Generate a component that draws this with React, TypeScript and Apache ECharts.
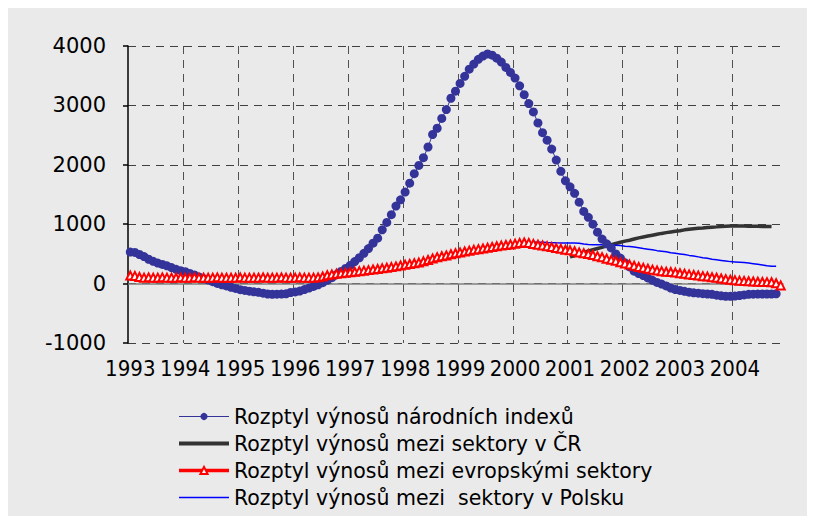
import React, { useEffect, useRef } from "react";
import * as echarts from "echarts";

// ---- Data -------------------------------------------------------------
const YEARS = ["1993", "1994", "1995", "1996", "1997", "1998", "1999", "2000", "2001", "2002", "2003", "2004"];
const MONTHS_PER_YEAR = [12, 12, 12, 12, 12, 12, 12, 12, 12, 12, 12, 11];

// Rozptyl výnosů národních indexů (monthly, 1993-01 .. 2004-10)
const NATIONAL = [
  530, 525, 490, 455, 410, 375, 345, 322, 300, 270, 240, 218, // 1993
  200, 172, 145, 112, 85, 62, 32, 3, -20, -40, -62, -82, // 1994
  -102, -115, -128, -138, -147, -162, -175, -180, -178, -176, -172, -150, // 1995
  -140, -125, -100, -75, -48, -20, 15, 55, 100, 150, 205, 255, // 1996
  305, 370, 435, 510, 590, 680, 765, 905, 1030, 1160, 1305, 1410, // 1997
  1540, 1690, 1850, 1990, 2120, 2300, 2510, 2615, 2780, 2930, 3120, 3240, // 1998
  3370, 3490, 3610, 3695, 3775, 3830, 3866, 3845, 3795, 3730, 3640, 3555, // 1999
  3460, 3330, 3180, 3030, 2890, 2705, 2540, 2415, 2265, 2080, 1890, 1730, // 2000
  1630, 1520, 1370, 1215, 1115, 1000, 865, 750, 670, 600, 500, 430, // 2001
  350, 280, 210, 170, 135, 95, 55, 20, -8, -40, -75, -100, // 2002
  -115, -130, -145, -155, -162, -170, -175, -180, -195, -205, -213, -215, // 2003
  -210, -200, -190, -180, -178, -176, -175, -175, -175, -172, null, // 2004
];

// Rozptyl výnosů mezi sektory v ČR (from 2001-01)
const CZ_START = "2001-01";
const CZ = [
  450, 470, 500, 525, 550, 570, 590, 610, 635, 655, 675, 695, // 2001
  715, 730, 750, 770, 785, 800, 815, 830, 845, 858, 870, 880, // 2002
  890, 905, 915, 925, 932, 938, 945, 950, 955, 962, 966, 968, // 2003
  970, 970, 968, 966, 965, 964, 962, 962, 960, // 2004
];

// Rozptyl výnosů mezi evropskými sektory (1993-01 .. 2004-11)
const EURO = [
  135, 130, 110, 100, 105, 100, 100, 105, 100, 100, 100, 105, // 1993
  100, 100, 105, 100, 100, 100, 100, 105, 100, 100, 100, 100, // 1994
  105, 100, 100, 100, 100, 105, 100, 100, 100, 105, 100, 100, // 1995
  100, 105, 100, 100, 100, 105, 120, 140, 155, 165, 175, 183, // 1996
  191, 200, 210, 218, 227, 237, 247, 257, 267, 278, 290, 305, // 1997
  318, 331, 342, 354, 375, 398, 422, 445, 460, 475, 493, 510, // 1998
  525, 540, 555, 568, 580, 592, 603, 615, 628, 640, 650, 660, // 1999
  670, 685, 692, 685, 668, 655, 642, 630, 615, 598, 585, 570, // 2000
  560, 545, 525, 510, 498, 482, 462, 445, 420, 400, 385, 360, // 2001
  340, 320, 300, 280, 265, 250, 235, 220, 210, 200, 195, 185, // 2002
  175, 165, 155, 145, 135, 125, 118, 108, 98, 85, 75, 65, // 2003
  58, 50, 45, 40, 36, 32, 28, 25, 22, 5, -30, // 2004
];

// Rozptyl výnosů mezi sektory v Polsku (from 2000-05)
const PL_START = "2000-05";
const PL = [
  700, 697, 695, 690, 688, 686, 685, 685, // 2000
  684, 683, 680, 665, 658, 655, 655, 652, 650, 648, 645, 640, // 2001
  630, 625, 615, 605, 590, 580, 570, 555, 545, 535, 520, 510, // 2002
  500, 490, 475, 465, 450, 435, 425, 410, 400, 390, 380, 370, // 2003
  365, 360, 355, 345, 335, 325, 315, 300, 292, 290, // 2004
];

const SERIES_NAMES = [
  "Rozptyl výnosů národních indexů",
  "Rozptyl výnosů mezi sektory v ČR",
  "Rozptyl výnosů mezi evropskými sektory",
  "Rozptyl výnosů mezi  sektory v Polsku",
];

const Y_MIN = -1000;
const Y_MAX = 4000;
const Y_STEP = 1000;

// ---- Helpers -----------------------------------------------------------
const CATEGORIES: string[] = [];
YEARS.forEach((y, yi) => {
  for (let m = 1; m <= MONTHS_PER_YEAR[yi]; m++) {
    CATEGORIES.push(`${y}-${String(m).padStart(2, "0")}`);
  }
});

function alignSeries(start: string, values: (number | null)[]) {
  const out: (number | null)[] = CATEGORIES.map(() => null);
  const s = CATEGORIES.indexOf(start);
  values.forEach((v, k) => {
    if (s + k < out.length) out[s + k] = v;
  });
  return out;
}

const FONT = "'DejaVu Sans', 'Liberation Sans', sans-serif";
const NARROW = "'Liberation Sans Narrow', 'DejaVu Sans Condensed', 'Liberation Sans', sans-serif";

export default function App() {
  const ref = useRef<HTMLDivElement>(null);

  useEffect(() => {
    if (!ref.current) return;
    const chart = echarts.init(ref.current, undefined, { renderer: "svg" });
    const option: any = {
      animation: false,
      backgroundColor: "#EAEAEA",
      textStyle: { fontFamily: FONT },
      grid: { left: 120, top: 38, width: 655, height: 297, containLabel: false },
      legend: {
        orient: "vertical",
        left: 169,
        top: 398,
        padding: 0,
        itemWidth: 50,
        itemHeight: 9,
        itemGap: 6,
        selectedMode: false,
        textStyle: { fontFamily: FONT, fontSize: 20.5, color: "#000", lineHeight: 21 },
        data: [
          { name: SERIES_NAMES[0], lineStyle: { width: 1 } },
          { name: SERIES_NAMES[1], itemStyle: { opacity: 0 }, lineStyle: { width: 4 } },
          { name: SERIES_NAMES[2], lineStyle: { width: 3.5 } },
          { name: SERIES_NAMES[3], itemStyle: { opacity: 0 }, lineStyle: { width: 1.5 } },
        ],
      },
      xAxis: [
        {
          type: "category",
          data: CATEGORIES,
          boundaryGap: true,
          position: "bottom",
          axisLine: { show: false, onZero: false },
          axisTick: { show: false },
          axisLabel: {
            interval: 11,
            formatter: (v: string) => v.slice(0, 4),
            color: "#000",
            fontSize: 22,
            fontFamily: NARROW,
            margin: 14,
          },
          splitLine: {
            show: true,
            interval: 11,
            showMinLine: false,
            showMaxLine: false,
            lineStyle: { type: [8, 6], color: "#505050", width: 1 },
          },
        },
        {
          type: "category",
          data: CATEGORIES,
          boundaryGap: true,
          position: "top",
          axisLine: { show: true, onZero: true, lineStyle: { color: "#808080", width: 1.5 } },
          axisTick: { show: false },
          axisLabel: { show: false },
          splitLine: { show: false },
        },
      ],
      yAxis: {
        type: "value",
        min: Y_MIN,
        max: Y_MAX,
        interval: Y_STEP,
        axisLine: { show: true, onZero: false, lineStyle: { color: "#000", width: 1.5 } },
        axisTick: { show: true, length: 5, lineStyle: { color: "#000", width: 1.5 } },
        axisLabel: {
          color: "#000",
          fontSize: 21,
          margin: 22,
          fontFamily: FONT,
          formatter: (v: number) => String(v),
        },
        splitLine: { show: true, lineStyle: { type: [8, 6], color: "#404040", width: 1 } },
      },
      series: [
        {
          name: SERIES_NAMES[0],
          type: "line",
          data: NATIONAL,
          symbol: "circle",
          symbolSize: 9,
          showSymbol: true,
          showAllSymbol: true,
          lineStyle: { color: "#333399", width: 1 },
          itemStyle: { color: "#333399" },
        },
        {
          name: SERIES_NAMES[1],
          type: "line",
          data: alignSeries(CZ_START, CZ),
          symbol: "none",
          lineStyle: { color: "#333333", width: 3.5 },
          itemStyle: { color: "#333333" },
        },
        {
          name: SERIES_NAMES[2],
          type: "line",
          data: EURO,
          symbol: "triangle",
          symbolSize: 8,
          showSymbol: true,
          showAllSymbol: true,
          lineStyle: { color: "#FF0000", width: 3 },
          itemStyle: { color: "#FFFFFF", borderColor: "#FF0000", borderWidth: 2 },
        },
        {
          name: SERIES_NAMES[3],
          type: "line",
          data: alignSeries(PL_START, PL),
          symbol: "none",
          lineStyle: { color: "#0000FF", width: 1.5 },
          itemStyle: { color: "#0000FF" },
        },
      ],
    };
    chart.setOption(option);
    return () => chart.dispose();
  }, []);

  return <div ref={ref} style={{ width: 799, height: 508 }} />;
}
